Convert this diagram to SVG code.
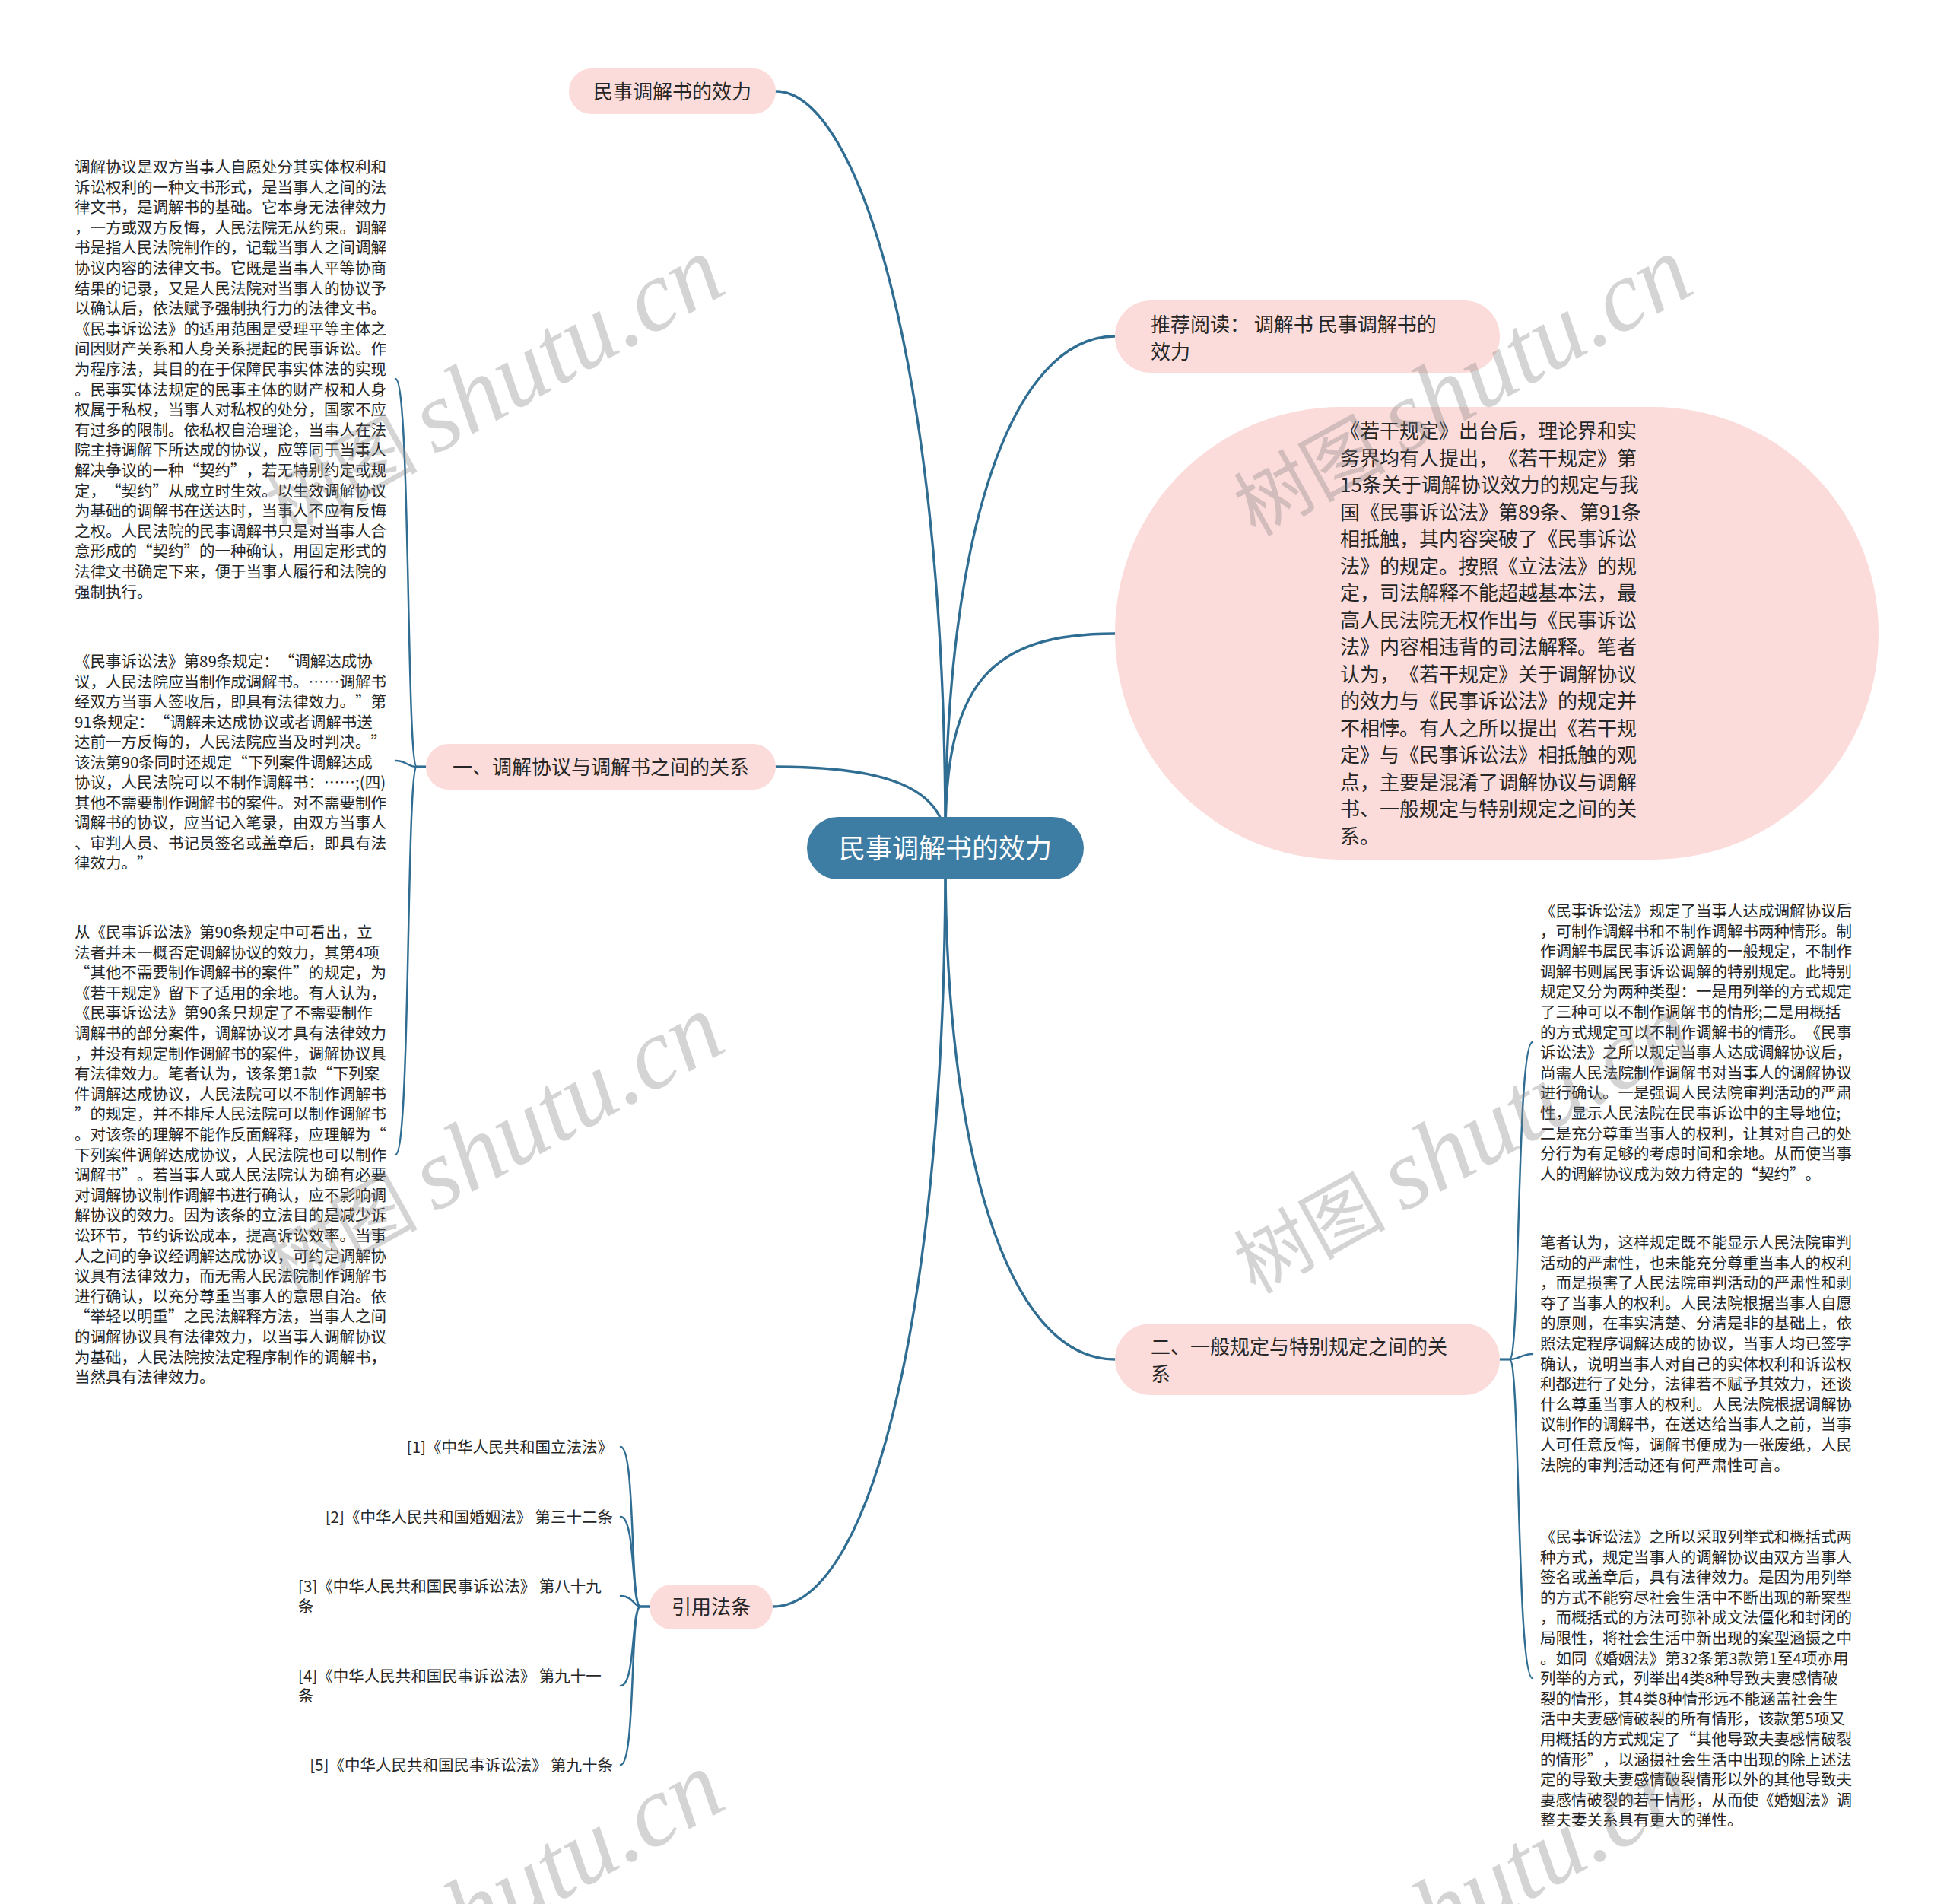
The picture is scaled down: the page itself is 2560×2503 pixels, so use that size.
<svg xmlns="http://www.w3.org/2000/svg" width="2560" height="2503" viewBox="0 0 2560 2503">
<style>
.bg{fill:#ffffff}
.pill{fill:#fbdcda}
.root{fill:#3d7ca3}
.t{font-family:"Noto Sans CJK SC","Noto Sans",sans-serif;fill:#262626;text-spacing-trim:space-all}
.lbl{font-size:26px}
.rootlbl{font-size:35px;fill:#ffffff}
.body{font-size:20.5px}
.big{font-size:26px}
.conn{fill:none;stroke:#2f6d93;stroke-linecap:round}
.main{stroke-width:3.3}
.sub{stroke-width:2.5}
.wm{font-size:100px;fill:#808080;opacity:0.33;font-family:"Noto Sans CJK SC",sans-serif}
.wm .lat{font-family:"Liberation Serif",serif;font-style:italic;font-size:132px}
</style>
<rect class="bg" x="0" y="0" width="2560" height="2503"/>

<g id="connectors">
<path class="conn main" d="M1020,120 C1130,120 1243,490 1243,1100"/>
<path class="conn main" d="M1243,1100 C1243,700 1330,442 1466,442"/>
<path class="conn main" d="M1243,1100 C1243,900 1300,833 1466,833"/>
<path class="conn main" d="M1020,1008 C1150,1008 1236,1030 1243,1100"/>
<path class="conn main" d="M1243,1130 C1243,1500 1320,1787 1466,1787"/>
<path class="conn main" d="M1243,1130 C1243,1700 1150,2112 1016,2112"/>
<path class="conn sub" d="M560,1008 L548,1008 C534,1008 540,498 520,498"/>
<path class="conn sub" d="M560,1008 L548,1008 C536,1008 534,1000 520,1000"/>
<path class="conn sub" d="M560,1008 L548,1008 C534,1008 540,1518 520,1518"/>
<path class="conn sub" d="M1972,1787 L1985,1787 C1999,1787 1994,1370 2015,1370"/>
<path class="conn sub" d="M1972,1787 L1985,1787 C1998,1787 2000,1780 2015,1780"/>
<path class="conn sub" d="M1972,1787 L1985,1787 C1999,1787 1994,2206 2015,2206"/>
<path class="conn sub" d="M854,2112 L842,2112 C828,2112 836,1902 816,1902"/>
<path class="conn sub" d="M854,2112 L842,2112 C830,2112 836,1994 816,1994"/>
<path class="conn sub" d="M854,2112 L842,2112 C834,2112 832,2098 816,2098"/>
<path class="conn sub" d="M854,2112 L842,2112 C830,2112 836,2216 816,2216"/>
<path class="conn sub" d="M854,2112 L842,2112 C828,2112 836,2320 816,2320"/>
</g>

<g id="node-top">
<rect class="pill" x="748" y="90" width="272" height="60" rx="30"/>
<text class="t lbl" x="884" y="130" text-anchor="middle">民事调解书的效力</text>
</g>

<g id="node-recommend">
<rect class="pill" x="1466" y="395" width="506" height="95" rx="47"/>
<text class="t lbl" x="1513" y="436">推荐阅读： 调解书 民事调解书的</text>
<text class="t lbl" x="1513" y="472">效力</text>
</g>

<g id="node-opinion">
<rect class="pill" x="1466" y="535" width="1004" height="595" rx="297"/>
<text class="t big" x="1762">
<tspan x="1762" y="576">《若干规定》出台后，理论界和实</tspan>
<tspan x="1762" y="611.5">务界均有人提出，《若干规定》第</tspan>
<tspan x="1762" y="647">15条关于调解协议效力的规定与我</tspan>
<tspan x="1762" y="682.5">国《民事诉讼法》第89条、第91条</tspan>
<tspan x="1762" y="718">相抵触，其内容突破了《民事诉讼</tspan>
<tspan x="1762" y="753.5">法》的规定。按照《立法法》的规</tspan>
<tspan x="1762" y="789">定，司法解释不能超越基本法，最</tspan>
<tspan x="1762" y="824.5">高人民法院无权作出与《民事诉讼</tspan>
<tspan x="1762" y="860">法》内容相违背的司法解释。笔者</tspan>
<tspan x="1762" y="895.5">认为，《若干规定》关于调解协议</tspan>
<tspan x="1762" y="931">的效力与《民事诉讼法》的规定并</tspan>
<tspan x="1762" y="966.5">不相悖。有人之所以提出《若干规</tspan>
<tspan x="1762" y="1002">定》与《民事诉讼法》相抵触的观</tspan>
<tspan x="1762" y="1037.5">点，主要是混淆了调解协议与调解</tspan>
<tspan x="1762" y="1073">书、一般规定与特别规定之间的关</tspan>
<tspan x="1762" y="1108.5">系。</tspan>
</text>
</g>

<g id="node-root">
<rect class="root" x="1061" y="1074" width="364" height="82" rx="41"/>
<text class="t rootlbl" x="1243" y="1128" text-anchor="middle">民事调解书的效力</text>
</g>

<g id="node-rel">
<rect class="pill" x="560" y="978" width="460" height="60" rx="30"/>
<text class="t lbl" x="790" y="1018" text-anchor="middle">一、调解协议与调解书之间的关系</text>
</g>

<g id="text-rel-1">
<text class="t body">
<tspan x="98" y="227">调解协议是双方当事人自愿处分其实体权利和</tspan>
<tspan x="98" y="253.6">诉讼权利的一种文书形式，是当事人之间的法</tspan>
<tspan x="98" y="280.2">律文书，是调解书的基础。它本身无法律效力</tspan>
<tspan x="98" y="306.8">，一方或双方反悔，人民法院无从约束。调解</tspan>
<tspan x="98" y="333.4">书是指人民法院制作的，记载当事人之间调解</tspan>
<tspan x="98" y="360">协议内容的法律文书。它既是当事人平等协商</tspan>
<tspan x="98" y="386.6">结果的记录，又是人民法院对当事人的协议予</tspan>
<tspan x="98" y="413.2">以确认后，依法赋予强制执行力的法律文书。</tspan>
<tspan x="98" y="439.8">《民事诉讼法》的适用范围是受理平等主体之</tspan>
<tspan x="98" y="466.4">间因财产关系和人身关系提起的民事诉讼。作</tspan>
<tspan x="98" y="493">为程序法，其目的在于保障民事实体法的实现</tspan>
<tspan x="98" y="519.6">。民事实体法规定的民事主体的财产权和人身</tspan>
<tspan x="98" y="546.2">权属于私权，当事人对私权的处分，国家不应</tspan>
<tspan x="98" y="572.8">有过多的限制。依私权自治理论，当事人在法</tspan>
<tspan x="98" y="599.4">院主持调解下所达成的协议，应等同于当事人</tspan>
<tspan x="98" y="626">解决争议的一种“契约”，若无特别约定或规</tspan>
<tspan x="98" y="652.6">定，“契约”从成立时生效。以生效调解协议</tspan>
<tspan x="98" y="679.2">为基础的调解书在送达时，当事人不应有反悔</tspan>
<tspan x="98" y="705.8">之权。人民法院的民事调解书只是对当事人合</tspan>
<tspan x="98" y="732.4">意形成的“契约”的一种确认，用固定形式的</tspan>
<tspan x="98" y="759">法律文书确定下来，便于当事人履行和法院的</tspan>
<tspan x="98" y="785.6">强制执行。</tspan>
</text>
</g>

<g id="text-rel-2">
<text class="t body">
<tspan x="98" y="877">《民事诉讼法》第89条规定：“调解达成协</tspan>
<tspan x="98" y="903.5">议，人民法院应当制作成调解书。……调解书</tspan>
<tspan x="98" y="930">经双方当事人签收后，即具有法律效力。”第</tspan>
<tspan x="98" y="956.5">91条规定：“调解未达成协议或者调解书送</tspan>
<tspan x="98" y="983">达前一方反悔的，人民法院应当及时判决。”</tspan>
<tspan x="98" y="1009.5">该法第90条同时还规定“下列案件调解达成</tspan>
<tspan x="98" y="1036">协议，人民法院可以不制作调解书：……;(四)</tspan>
<tspan x="98" y="1062.5">其他不需要制作调解书的案件。对不需要制作</tspan>
<tspan x="98" y="1089">调解书的协议，应当记入笔录，由双方当事人</tspan>
<tspan x="98" y="1115.5">、审判人员、书记员签名或盖章后，即具有法</tspan>
<tspan x="98" y="1142">律效力。”</tspan>
</text>
</g>

<g id="text-rel-3">
<text class="t body">
<tspan x="98" y="1233">从《民事诉讼法》第90条规定中可看出，立</tspan>
<tspan x="98" y="1259.6">法者并未一概否定调解协议的效力，其第4项</tspan>
<tspan x="98" y="1286.2">“其他不需要制作调解书的案件”的规定，为</tspan>
<tspan x="98" y="1312.8">《若干规定》留下了适用的余地。有人认为，</tspan>
<tspan x="98" y="1339.4">《民事诉讼法》第90条只规定了不需要制作</tspan>
<tspan x="98" y="1366">调解书的部分案件，调解协议才具有法律效力</tspan>
<tspan x="98" y="1392.6">，并没有规定制作调解书的案件，调解协议具</tspan>
<tspan x="98" y="1419.2">有法律效力。笔者认为，该条第1款“下列案</tspan>
<tspan x="98" y="1445.8">件调解达成协议，人民法院可以不制作调解书</tspan>
<tspan x="98" y="1472.4">”的规定，并不排斥人民法院可以制作调解书</tspan>
<tspan x="98" y="1499">。对该条的理解不能作反面解释，应理解为“</tspan>
<tspan x="98" y="1525.6">下列案件调解达成协议，人民法院也可以制作</tspan>
<tspan x="98" y="1552.2">调解书”。若当事人或人民法院认为确有必要</tspan>
<tspan x="98" y="1578.8">对调解协议制作调解书进行确认，应不影响调</tspan>
<tspan x="98" y="1605.4">解协议的效力。因为该条的立法目的是减少诉</tspan>
<tspan x="98" y="1632">讼环节，节约诉讼成本，提高诉讼效率。当事</tspan>
<tspan x="98" y="1658.6">人之间的争议经调解达成协议，可约定调解协</tspan>
<tspan x="98" y="1685.2">议具有法律效力，而无需人民法院制作调解书</tspan>
<tspan x="98" y="1711.8">进行确认，以充分尊重当事人的意思自治。依</tspan>
<tspan x="98" y="1738.4">“举轻以明重”之民法解释方法，当事人之间</tspan>
<tspan x="98" y="1765">的调解协议具有法律效力，以当事人调解协议</tspan>
<tspan x="98" y="1791.6">为基础，人民法院按法定程序制作的调解书，</tspan>
<tspan x="98" y="1818.2">当然具有法律效力。</tspan>
</text>
</g>

<g id="node-general">
<rect class="pill" x="1466" y="1740" width="506" height="94" rx="47"/>
<text class="t lbl" x="1513" y="1780">二、一般规定与特别规定之间的关</text>
<text class="t lbl" x="1513" y="1816">系</text>
</g>

<g id="text-general-1">
<text class="t body">
<tspan x="2025" y="1205">《民事诉讼法》规定了当事人达成调解协议后</tspan>
<tspan x="2025" y="1231.6">，可制作调解书和不制作调解书两种情形。制</tspan>
<tspan x="2025" y="1258.2">作调解书属民事诉讼调解的一般规定，不制作</tspan>
<tspan x="2025" y="1284.8">调解书则属民事诉讼调解的特别规定。此特别</tspan>
<tspan x="2025" y="1311.4">规定又分为两种类型：一是用列举的方式规定</tspan>
<tspan x="2025" y="1338">了三种可以不制作调解书的情形;二是用概括</tspan>
<tspan x="2025" y="1364.6">的方式规定可以不制作调解书的情形。《民事</tspan>
<tspan x="2025" y="1391.2">诉讼法》之所以规定当事人达成调解协议后，</tspan>
<tspan x="2025" y="1417.8">尚需人民法院制作调解书对当事人的调解协议</tspan>
<tspan x="2025" y="1444.4">进行确认。一是强调人民法院审判活动的严肃</tspan>
<tspan x="2025" y="1471">性，显示人民法院在民事诉讼中的主导地位;</tspan>
<tspan x="2025" y="1497.6">二是充分尊重当事人的权利，让其对自己的处</tspan>
<tspan x="2025" y="1524.2">分行为有足够的考虑时间和余地。从而使当事</tspan>
<tspan x="2025" y="1550.8">人的调解协议成为效力待定的“契约”。</tspan>
</text>
</g>

<g id="text-general-2">
<text class="t body">
<tspan x="2025" y="1641">笔者认为，这样规定既不能显示人民法院审判</tspan>
<tspan x="2025" y="1667.6">活动的严肃性，也未能充分尊重当事人的权利</tspan>
<tspan x="2025" y="1694.2">，而是损害了人民法院审判活动的严肃性和剥</tspan>
<tspan x="2025" y="1720.8">夺了当事人的权利。人民法院根据当事人自愿</tspan>
<tspan x="2025" y="1747.4">的原则，在事实清楚、分清是非的基础上，依</tspan>
<tspan x="2025" y="1774">照法定程序调解达成的协议，当事人均已签字</tspan>
<tspan x="2025" y="1800.6">确认，说明当事人对自己的实体权利和诉讼权</tspan>
<tspan x="2025" y="1827.2">利都进行了处分，法律若不赋予其效力，还谈</tspan>
<tspan x="2025" y="1853.8">什么尊重当事人的权利。人民法院根据调解协</tspan>
<tspan x="2025" y="1880.4">议制作的调解书，在送达给当事人之前，当事</tspan>
<tspan x="2025" y="1907">人可任意反悔，调解书便成为一张废纸，人民</tspan>
<tspan x="2025" y="1933.6">法院的审判活动还有何严肃性可言。</tspan>
</text>
</g>

<g id="text-general-3">
<text class="t body">
<tspan x="2025" y="2028">《民事诉讼法》之所以采取列举式和概括式两</tspan>
<tspan x="2025" y="2054.6">种方式，规定当事人的调解协议由双方当事人</tspan>
<tspan x="2025" y="2081.2">签名或盖章后，具有法律效力。是因为用列举</tspan>
<tspan x="2025" y="2107.8">的方式不能穷尽社会生活中不断出现的新案型</tspan>
<tspan x="2025" y="2134.4">，而概括式的方法可弥补成文法僵化和封闭的</tspan>
<tspan x="2025" y="2161">局限性，将社会生活中新出现的案型涵摄之中</tspan>
<tspan x="2025" y="2187.6">。如同《婚姻法》第32条第3款第1至4项亦用</tspan>
<tspan x="2025" y="2214.2">列举的方式，列举出4类8种导致夫妻感情破</tspan>
<tspan x="2025" y="2240.8">裂的情形，其4类8种情形远不能涵盖社会生</tspan>
<tspan x="2025" y="2267.4">活中夫妻感情破裂的所有情形，该款第5项又</tspan>
<tspan x="2025" y="2294">用概括的方式规定了“其他导致夫妻感情破裂</tspan>
<tspan x="2025" y="2320.6">的情形”，以涵摄社会生活中出现的除上述法</tspan>
<tspan x="2025" y="2347.2">定的导致夫妻感情破裂情形以外的其他导致夫</tspan>
<tspan x="2025" y="2373.8">妻感情破裂的若干情形，从而使《婚姻法》调</tspan>
<tspan x="2025" y="2400.4">整夫妻关系具有更大的弹性。</tspan>
</text>
</g>

<g id="node-cite">
<rect class="pill" x="854" y="2083" width="162" height="59" rx="29.5"/>
<text class="t lbl" x="935" y="2122" text-anchor="middle">引用法条</text>
</g>

<g id="cite-1"><text class="t body" x="806" y="1910" text-anchor="end">[1]《中华人民共和国立法法》</text></g>
<g id="cite-2"><text class="t body" x="806" y="2002" text-anchor="end">[2]《中华人民共和国婚姻法》 第三十二条</text></g>
<g id="cite-3"><text class="t body"><tspan x="392" y="2093">[3]《中华人民共和国民事诉讼法》 第八十九</tspan><tspan x="392" y="2119">条</tspan></text></g>
<g id="cite-4"><text class="t body"><tspan x="392" y="2211">[4]《中华人民共和国民事诉讼法》 第九十一</tspan><tspan x="392" y="2237">条</tspan></text></g>
<g id="cite-5"><text class="t body" x="806" y="2328" text-anchor="end">[5]《中华人民共和国民事诉讼法》 第九十条</text></g>

<g id="watermarks">
<text class="wm" transform="translate(377,706) rotate(-29)">树图 <tspan class="lat">shutu.cn</tspan></text>
<text class="wm" transform="translate(1650,706) rotate(-29)">树图 <tspan class="lat">shutu.cn</tspan></text>
<text class="wm" transform="translate(377,1702) rotate(-29)">树图 <tspan class="lat">shutu.cn</tspan></text>
<text class="wm" transform="translate(1650,1702) rotate(-29)">树图 <tspan class="lat">shutu.cn</tspan></text>
<text class="wm" transform="translate(377,2698) rotate(-29)">树图 <tspan class="lat">shutu.cn</tspan></text>
<text class="wm" transform="translate(1650,2698) rotate(-29)">树图 <tspan class="lat">shutu.cn</tspan></text>
</g>
</svg>
